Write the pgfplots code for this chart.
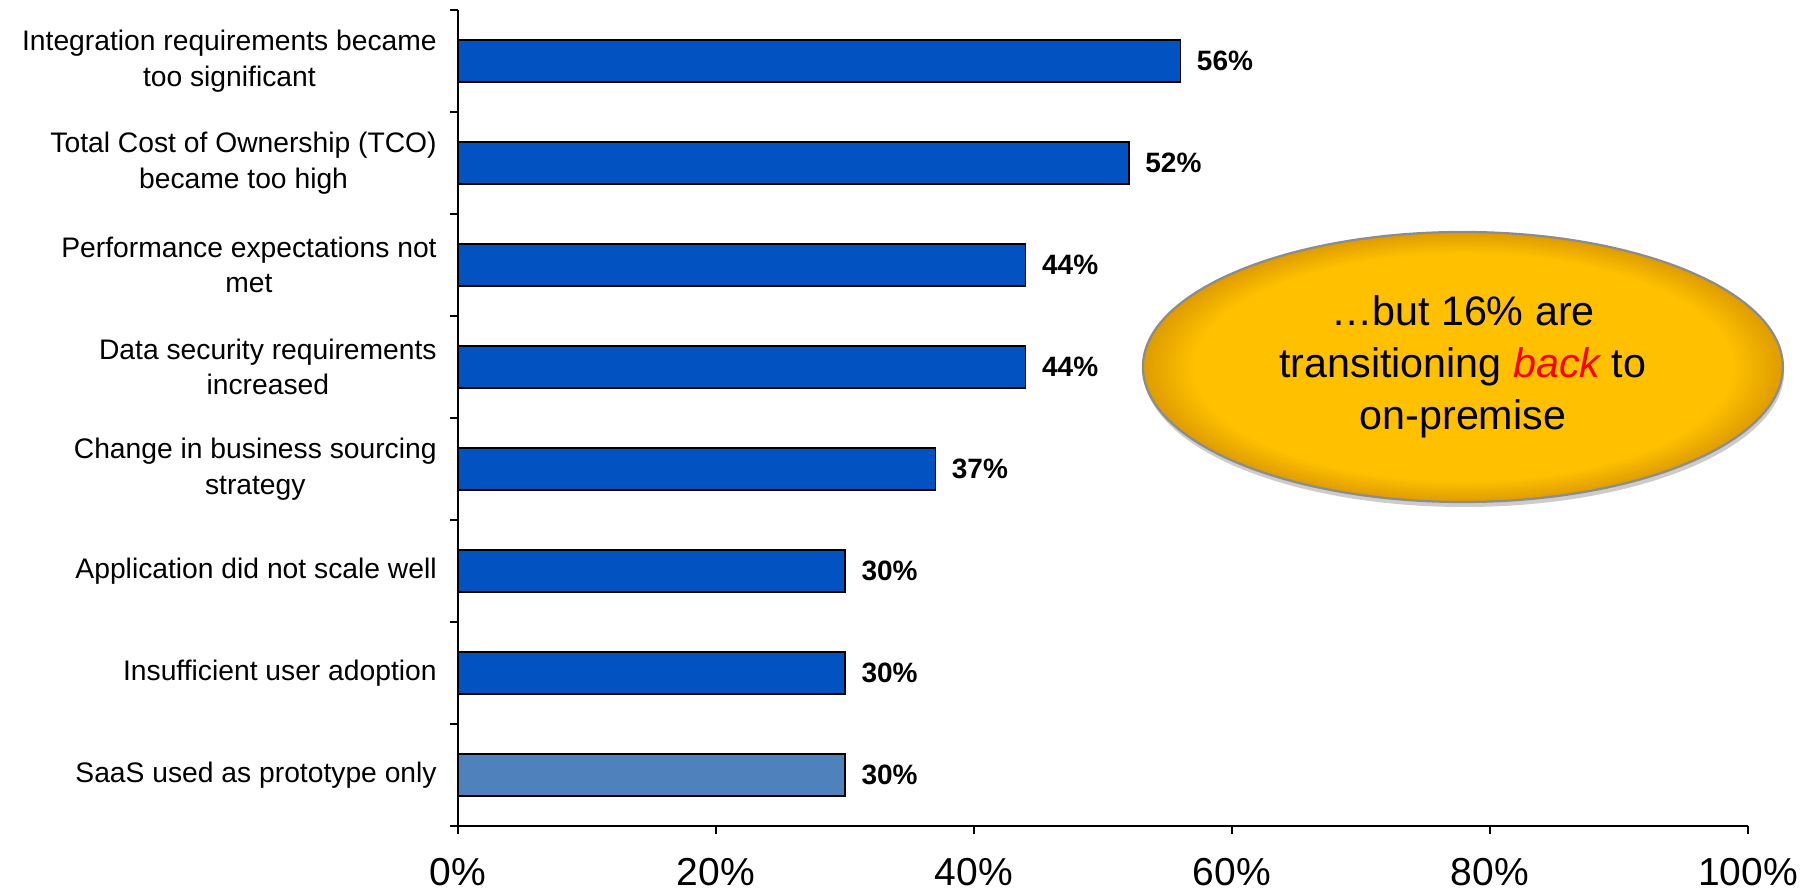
\documentclass[border=0pt]{standalone}
\usepackage{pgfplots}
\pgfplotsset{compat=1.18}
\usepackage{fontspec}
\setmainfont{Liberation Sans}
\usetikzlibrary{shapes.geometric,shadows}

\definecolor{barblue}{RGB}{2,82,194}
\definecolor{barlight}{RGB}{79,129,189}
\definecolor{calloutin}{RGB}{255,192,0}
\definecolor{calloutrim}{RGB}{222,156,0}
\pgfdeclareradialshading{rim}{\pgfpointorigin}{color(0bp)=(calloutin); color(21bp)=(calloutin); color(25bp)=(calloutrim); color(50bp)=(calloutrim)}

\begin{document}
\begin{tikzpicture}
\useasboundingbox (-183.2pt,-27.2pt) rectangle (540.8pt,330.4pt);
\begin{axis}[
  scale only axis, width=516pt, height=326.4pt,
  clip=false,
  xbar, bar width=0.41, bar shift=0pt,
  xmin=0, xmax=100, ymin=-0.5, ymax=7.5,
  axis lines=left, axis line style={-, line width=1pt},
  tick align=outside,
  major tick length=3.2pt,
  tick style={black, line width=0.9pt},
  xtick={0,20,...,100},
  xticklabel={\pgfmathprintnumber{\tick}\%},
  xticklabel style={font=\fontsize{15.6}{18}\selectfont, yshift=-6pt},
  /pgf/number format/assume math mode=true,
  ytick={-0.5,0.5,...,7.5},
  yticklabels={},
  extra y ticks={0,...,7},
  extra y tick labels={{SaaS used as prototype only},
    {Insufficient user adoption},
    {Application did not scale well},
    {Change in business sourcing\\strategy},
    {Data security requirements\\increased},
    {Performance expectations not\\met},
    {Total Cost of Ownership (TCO)\\became too high},
    {Integration requirements became\\too significant}},
  extra y tick style={major tick length=0pt,
    yticklabel style={align=center, font=\fontsize{11.3}{14.3}\selectfont, xshift=-5pt}},
  nodes near coords={\pgfmathprintnumber{\pgfplotspointmeta}\%},
  every node near coord/.append style={font=\bfseries\fontsize{11.2}{13}\selectfont, xshift=3pt, black},
]
\addplot[fill=barblue, draw=black, line width=0.6pt]
  coordinates {(30,1) (30,2) (37,3) (44,4) (44,5) (52,6) (56,7)};
\addplot[fill=barlight, draw=black, line width=0.6pt]
  coordinates {(30,0)};
\node[ellipse, minimum width=256pt, minimum height=108pt, shading=rim,
  draw=gray!90, line width=0.9pt,
  drop shadow={opacity=0.4, shadow xshift=0.5pt, shadow yshift=-2pt},
  align=center, inner sep=0pt,
  font=\fontsize{16.5}{20.8}\selectfont]
  at (axis cs:77.9,4.0)
  {\ldots but 16\% are\\transitioning \textit{\color{red}back} to\\on-premise};
\end{axis}
\end{tikzpicture}
\end{document}
